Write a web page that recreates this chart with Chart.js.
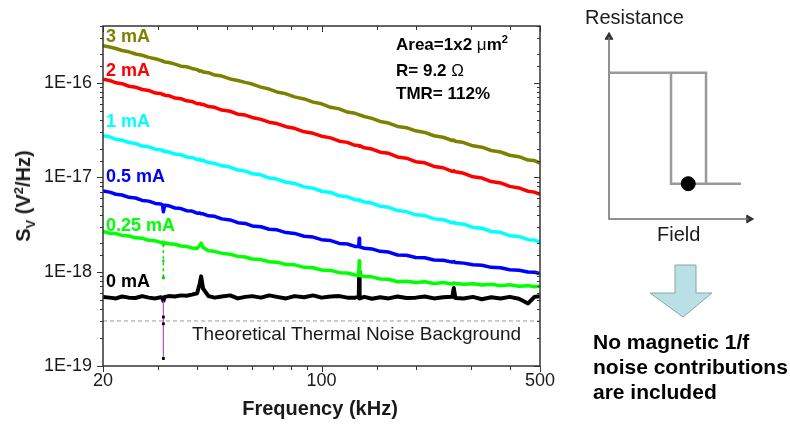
<!DOCTYPE html>
<html>
<head>
<meta charset="utf-8">
<script src="https://cdn.jsdelivr.net/npm/chart.js@4.4.1/dist/chart.umd.min.js"></script>
<style>
  html, body { margin: 0; padding: 0; background: #fff; }
  #page { position: relative; width: 790px; height: 426px; overflow: hidden;
          font-family: "Liberation Sans", Arial, sans-serif; color: #1a1a1a; }
  #page canvas { position: absolute; }
  .t { position: absolute; white-space: nowrap; line-height: 1; }
  .b { font-weight: bold; }
</style>
</head>
<body>
<div id="page">
  <canvas id="noiseChart" width="560" height="426" style="left:0;top:0"></canvas>
  <canvas id="loopChart" width="230" height="260" style="left:560px;top:0"></canvas>

  <div class="t b" style="left:23px;top:196px;font-size:20px;transform:translate(-50%,-50%) rotate(-90deg)">S<span style="font-size:13px;position:relative;top:5px">V</span> (V<span style="font-size:13px;position:relative;top:-7px">2</span>/Hz)</div>
  <div class="t b" style="left:320px;top:398px;font-size:20px;transform:translateX(-50%)">Frequency (kHz)</div>

  <div class="t b" style="left:106px;top:27px;font-size:18px;color:#808000">3 mA</div>
  <div class="t b" style="left:106px;top:61px;font-size:18px;color:#ff0000">2 mA</div>
  <div class="t b" style="left:106px;top:112px;font-size:18px;color:#00ffff">1 mA</div>
  <div class="t b" style="left:106px;top:167px;font-size:18px;color:#0000ff">0.5 mA</div>
  <div class="t b" style="left:106px;top:216px;font-size:18px;color:#00ff00">0.25 mA</div>
  <div class="t b" style="left:106px;top:272px;font-size:18px;color:#000">0 mA</div>

  <div class="t b" style="left:396px;top:36px;font-size:17px;color:#000">Area=1x2 <span style="font-weight:normal">μ</span>m<span style="font-size:11px;position:relative;top:-7px">2</span></div>
  <div class="t b" style="left:396px;top:62px;font-size:17px;color:#000">R= 9.2 <span style="font-weight:normal">Ω</span></div>
  <div class="t b" style="left:396px;top:85px;font-size:17px;color:#000">TMR= 112%</div>

  <div class="t" style="left:192px;top:324px;font-size:19px;color:#1a1a1a">Theoretical Thermal Noise Background</div>

  <div class="t" style="left:585px;top:7px;font-size:20px">Resistance</div>
  <div class="t" style="left:657px;top:224px;font-size:20px">Field</div>

  <svg width="790" height="426" style="position:absolute;left:0;top:0">
    <polygon points="675,265 696,265 696,293 712,293 683,317 650,293 675,293"
             fill="#b9e0e4" stroke="#8aa4a8" stroke-width="1"/>
  </svg>

  <div class="t b" style="left:593px;top:329px;font-size:21px;line-height:25px;color:#000">No magnetic 1/f<br>noise contributions<br>are included</div>
</div>

<script>
// frequency axis (kHz)
const freqKHz = [20, 21, 22, 23, 24.2, 25.4, 26.7, 28, 29.4, 30.6, 31.0, 31.2, 31.5, 32.5, 34, 35.5, 37, 38.5, 40, 40.8,
    41.2, 41.8, 43.5, 45.5, 48, 51, 54, 57, 60, 64, 68, 72, 77, 82, 88, 94, 100, 107, 114, 121,
    128, 131.6, 132, 132.4, 137, 145, 154, 164, 175, 187, 200, 214, 229, 245, 262, 265, 268, 285, 305, 326,
    349, 374, 400, 428, 458, 480, 500];

// noise spectra S_V (V^2/Hz), one per bias current
const sv3mA = [2.47e-16, 2.40e-16, 2.31e-16, 2.20e-16, 2.13e-16, 2.02e-16, 1.96e-16, 1.86e-16, 1.80e-16, 1.73e-16,
    1.69e-16, 1.70e-16, 1.66e-16, 1.64e-16, 1.58e-16, 1.50e-16, 1.48e-16, 1.42e-16, 1.38e-16, 1.33e-16,
    1.34e-16, 1.30e-16, 1.28e-16, 1.21e-16, 1.18e-16, 1.10e-16, 1.06e-16, 1.01e-16, 9.7e-17, 9.0e-17,
    8.6e-17, 8.0e-17, 7.65e-17, 7.1e-17, 6.75e-17, 6.25e-17, 6.0e-17, 5.5e-17, 5.3e-17, 4.9e-17,
    4.75e-17, 4.6e-17, 4.55e-17, 4.58e-17, 4.4e-17, 4.2e-17, 3.9e-17, 3.75e-17, 3.45e-17, 3.35e-17,
    3.1e-17, 2.98e-17, 2.75e-17, 2.65e-17, 2.45e-17, 2.48e-17, 2.4e-17, 2.33e-17, 2.15e-17, 2.08e-17,
    1.92e-17, 1.85e-17, 1.71e-17, 1.65e-17, 1.52e-17, 1.50e-17, 1.41e-17];
const sv2mA = [1.09e-16, 1.06e-16, 1.00e-16, 9.8e-17, 9.2e-17, 9.0e-17, 8.5e-17, 8.3e-17, 7.8e-17, 7.7e-17,
    7.5e-17, 7.55e-17, 7.4e-17, 7.3e-17, 6.9e-17, 6.8e-17, 6.45e-17, 6.35e-17, 6.0e-17, 6.05e-17,
    5.9e-17, 5.9e-17, 5.6e-17, 5.5e-17, 5.15e-17, 5.0e-17, 4.65e-17, 4.55e-17, 4.3e-17, 4.1e-17,
    3.83e-17, 3.7e-17, 3.43e-17, 3.3e-17, 3.03e-17, 2.92e-17, 2.72e-17, 2.61e-17, 2.41e-17, 2.34e-17,
    2.18e-17, 2.17e-17, 2.13e-17, 2.16e-17, 2.05e-17, 1.99e-17, 1.84e-17, 1.79e-17, 1.64e-17, 1.59e-17,
    1.46e-17, 1.42e-17, 1.30e-17, 1.26e-17, 1.15e-17, 1.17e-17, 1.14e-17, 1.10e-17, 1.01e-17, 9.8e-18,
    9.0e-18, 8.7e-18, 8.0e-18, 7.7e-18, 7.1e-18, 6.95e-18, 6.6e-18];
const sv1mA = [2.76e-17, 2.68e-17, 2.52e-17, 2.47e-17, 2.33e-17, 2.28e-17, 2.14e-17, 2.10e-17, 1.98e-17, 1.95e-17,
    1.90e-17, 1.92e-17, 1.88e-17, 1.85e-17, 1.76e-17, 1.73e-17, 1.64e-17, 1.62e-17, 1.54e-17, 1.55e-17,
    1.50e-17, 1.51e-17, 1.43e-17, 1.40e-17, 1.32e-17, 1.28e-17, 1.19e-17, 1.16e-17, 1.09e-17, 1.06e-17,
    9.8e-18, 9.55e-18, 8.85e-18, 8.6e-18, 7.9e-18, 7.65e-18, 7.1e-18, 6.9e-18, 6.35e-18, 6.2e-18,
    5.78e-18, 5.75e-18, 5.65e-18, 5.72e-18, 5.45e-18, 5.32e-18, 4.93e-18, 4.8e-18, 4.43e-18, 4.32e-18,
    4.0e-18, 3.92e-18, 3.62e-18, 3.55e-18, 3.28e-18, 3.34e-18, 3.25e-18, 3.18e-18, 2.94e-18, 2.88e-18,
    2.66e-18, 2.61e-18, 2.4e-18, 2.36e-18, 2.18e-18, 2.16e-18, 2.05e-18];
const sv05mA = [7.16e-18, 6.95e-18, 6.60e-18, 6.48e-18, 6.12e-18, 6.02e-18, 5.68e-18, 5.58e-18, 5.28e-18, 5.20e-18,
    5.10e-18, 4.3e-18, 5.05e-18, 4.98e-18, 4.72e-18, 4.66e-18, 4.42e-18, 4.38e-18, 4.16e-18, 4.18e-18,
    4.10e-18, 4.10e-18, 3.90e-18, 3.85e-18, 3.62e-18, 3.53e-18, 3.30e-18, 3.24e-18, 3.05e-18, 2.99e-18,
    2.81e-18, 2.77e-18, 2.59e-18, 2.54e-18, 2.37e-18, 2.32e-18, 2.18e-18, 2.13e-18, 1.99e-18, 1.96e-18,
    1.85e-18, 1.84e-18, 2.25e-18, 1.83e-18, 1.77e-18, 1.74e-18, 1.64e-18, 1.61e-18, 1.50e-18, 1.49e-18,
    1.41e-18, 1.40e-18, 1.33e-18, 1.32e-18, 1.26e-18, 1.28e-18, 1.25e-18, 1.23e-18, 1.18e-18, 1.17e-18,
    1.11e-18, 1.10e-18, 1.045e-18, 1.035e-18, 9.9e-19, 9.85e-19, 9.55e-19];
const sv025mA = [2.66e-18, 2.55e-18, 2.53e-18, 2.42e-18, 2.38e-18, 2.28e-18, 2.25e-18, 2.15e-18, 2.12e-18, 2.04e-18,
    2.05e-18, 1.95e-18, 2.02e-18, 1.97e-18, 1.95e-18, 1.87e-18, 1.85e-18, 1.78e-18, 1.76e-18, 1.90e-18,
    2.00e-18, 1.80e-18, 1.66e-18, 1.64e-18, 1.56e-18, 1.53e-18, 1.45e-18, 1.43e-18, 1.36e-18, 1.34e-18,
    1.27e-18, 1.26e-18, 1.19e-18, 1.18e-18, 1.11e-18, 1.10e-18, 1.04e-18, 1.03e-18, 9.75e-19, 9.65e-19,
    9.2e-19, 9.15e-19, 1.3e-18, 9.1e-19, 8.9e-19, 8.8e-19, 8.35e-19, 8.3e-19, 7.8e-19, 7.9e-19,
    7.65e-19, 7.8e-19, 7.5e-19, 7.65e-19, 7.4e-19, 7.6e-19, 7.5e-19, 7.35e-19, 7.45e-19, 7.2e-19,
    7.35e-19, 7.1e-19, 7.25e-19, 7.0e-19, 7.1e-19, 6.9e-19, 7.0e-19];
const sv0mA = [5.4e-19, 5.3e-19, 5.2e-19, 5.45e-19, 5.3e-19, 5.25e-19, 5.5e-19, 5.3e-19, 5.2e-19, 5.35e-19,
    5.3e-19, 4.9e-19, 5.4e-19, 5.5e-19, 5.45e-19, 5.6e-19, 5.55e-19, 5.7e-19, 5.9e-19, 7.5e-19,
    8.9e-19, 6.6e-19, 5.5e-19, 5.3e-19, 5.45e-19, 5.6e-19, 5.2e-19, 5.4e-19, 5.5e-19, 5.3e-19,
    5.6e-19, 5.4e-19, 5.2e-19, 5.5e-19, 5.35e-19, 5.6e-19, 5.3e-19, 5.45e-19, 5.5e-19, 5.3e-19,
    5.3e-19, 5.4e-19, 1.0e-18, 5.2e-19, 5.4e-19, 5.15e-19, 5.35e-19, 5.2e-19, 5.45e-19, 5.25e-19,
    5.3e-19, 5.45e-19, 5.2e-19, 5.35e-19, 5.4e-19, 6.7e-19, 5.25e-19, 5.2e-19, 5.4e-19, 5.1e-19,
    5.35e-19, 5.2e-19, 5.4e-19, 5.15e-19, 4.6e-19, 5.4e-19, 5.5e-19];

// glitch at ~31 kHz (drop-outs of the 0.25 mA and 0 mA traces)
const dropFreq = [31.2, 31.2, 31.2, 31.2];
const dropGreen = [1.95e-18, 1.3e-18, 8.6e-19];
const dropBlack = [4.9e-19, 3.3e-19, 2.8e-19, 1.2e-19];

// thermal noise floor
const thermalFreq = [20, 500];
const thermalSv = [3.0e-19, 3.0e-19];

const currents = ["3 mA", "2 mA", "1 mA", "0.5 mA", "0.25 mA", "0 mA"];
const seriesValues = [sv3mA, sv2mA, sv1mA, sv05mA, sv025mA, sv0mA];
const seriesColors = ["#808000", "#ff0000", "#00ffff", "#0000ff", "#00ff00", "#000000"];

const xLabelled = [20, 100, 500];

// right panel: R(H) hysteresis sketch, arbitrary units
const loopField = [0, 69.3, 69.3, 94.3, null, 44.3, 44.3, 69.3];
const loopResistance = [80.4, 80.4, 19.4, 19.4, null, 80.4, 19.4, 19.4];
const axisField = [0, 0, 100];
const axisResistance = [100, 0, 0];
const stateField = [56.6];
const stateResistance = [19.4];

const FONT = "'Liberation Sans', Arial, sans-serif";
const pts = (xs, ys) => xs.map((x, i) => ({ x: x, y: ys[i] }));

const isDecade = v => {
    const e = Math.log10(v);
    return Math.abs(e - Math.round(e)) < 1e-6;
};

// frame + tick marks (outside on bottom/left, inside on top/right)
const frameTicks = {
    id: "frameTicks",
    afterDraw(chart) {
        const { ctx, chartArea: a, scales: { x, y } } = chart;
        ctx.save();
        ctx.strokeStyle = "#333";
        ctx.lineWidth = 1;
        const seg = (x1, y1, x2, y2) => {
            ctx.beginPath(); ctx.moveTo(x1, y1); ctx.lineTo(x2, y2); ctx.stroke();
        };
        x.ticks.forEach(t => {
            const px = Math.round(x.getPixelForValue(t.value)) + 0.5;
            const len = xLabelled.includes(Math.round(t.value)) ? 6 : 4;
            seg(px, a.bottom, px, a.bottom + len);
            seg(px, a.top, px, a.top + len);
        });
        y.ticks.forEach(t => {
            const py = Math.round(y.getPixelForValue(t.value)) + 0.5;
            const len = isDecade(t.value) ? 6 : 3;
            seg(a.left - len, py, a.left, py);
            seg(a.right - len, py, a.right, py);
        });
        ctx.lineWidth = 1.5;
        ctx.strokeRect(a.left, a.top, a.right - a.left, a.bottom - a.top);
        ctx.restore();
    }
};

const datasets = [
    {
        label: "0 mA glitch",
        data: pts(dropFreq, dropBlack),
        borderColor: "#c050c0",
        borderWidth: 1.2,
        pointRadius: [0, 2, 2, 2],
        pointStyle: "rect",
        pointBackgroundColor: "#000",
        pointBorderWidth: 0
    },
    {
        label: "0.25 mA glitch",
        data: pts(dropFreq.slice(0, 3), dropGreen),
        borderColor: "#00dd00",
        borderWidth: 1.5,
        borderDash: [3, 3],
        pointRadius: [0, 1.5, 2],
        pointStyle: "rect",
        pointBackgroundColor: "#00cc00",
        pointBorderWidth: 0
    }
];
currents.forEach((name, i) => {
    datasets.push({
        label: name,
        data: pts(freqKHz, seriesValues[i]),
        borderColor: seriesColors[i],
        borderWidth: name === "0 mA" ? 4 : 3.5,
        pointRadius: 0,
        borderJoinStyle: "round"
    });
});
datasets.push({
    label: "Theoretical Thermal Noise Background",
    data: pts(thermalFreq, thermalSv),
    borderColor: "#9a9a9a",
    borderWidth: 1,
    borderDash: [4, 3],
    pointRadius: 0
});

new Chart(document.getElementById("noiseChart").getContext("2d"), {
    type: "line",
    data: { datasets: datasets },
    options: {
        responsive: false,
        animation: false,
        layout: { padding: { top: 26, right: 20, left: 0, bottom: 0 } },
        plugins: { legend: { display: false }, tooltip: { enabled: false } },
        elements: { line: { tension: 0 } },
        scales: {
            x: {
                type: "logarithmic",
                min: 20,
                max: 500,
                grid: { display: false, drawTicks: false },
                border: { display: false },
                afterFit: s => { s.height = 60; },
                ticks: {
                    autoSkip: false,
                    maxRotation: 0,
                    padding: 4,
                    color: "#1a1a1a",
                    font: { family: FONT, size: 18 },
                    callback: v => {
                        const r = Math.round(v);
                        return xLabelled.includes(r) && Math.abs(v - r) < 1e-6 ? String(r) : "";
                    }
                }
            },
            y: {
                type: "logarithmic",
                min: 1e-19,
                max: 4e-16,
                grid: { display: false, drawTicks: false },
                border: { display: false },
                afterFit: s => { s.width = 103; },
                ticks: {
                    autoSkip: false,
                    padding: 11,
                    color: "#1a1a1a",
                    font: { family: FONT, size: 18 },
                    callback: v => isDecade(v) ? "1E" + Math.round(Math.log10(v)) : ""
                }
            }
        }
    },
    plugins: [frameTicks]
});

// hysteresis sketch
new Chart(document.getElementById("loopChart").getContext("2d"), {
    type: "line",
    data: {
        datasets: [
            {
                label: "state",
                data: pts(stateField, stateResistance),
                showLine: false,
                pointRadius: 7,
                pointBackgroundColor: "#000",
                pointBorderColor: "#000",
                clip: false
            },
            {
                label: "loop",
                data: pts(loopField, loopResistance),
                borderColor: "#9a9a9a",
                borderWidth: 2.5,
                pointRadius: 0,
                spanGaps: false,
                clip: false
            },
            {
                label: "axes",
                data: pts(axisField, axisResistance),
                borderColor: "#6e6e6e",
                borderWidth: 1.5,
                pointRadius: 0,
                clip: false
            },
            {
                label: "arrows",
                data: pts([0, 100], [100, 0]),
                showLine: false,
                pointStyle: "triangle",
                pointRotation: [0, 90],
                pointRadius: 4.5,
                pointBackgroundColor: "#333",
                pointBorderColor: "#333",
                clip: false
            }
        ]
    },
    options: {
        responsive: false,
        animation: false,
        layout: { padding: { left: 49, right: 41, top: 37, bottom: 41 } },
        plugins: { legend: { display: false }, tooltip: { enabled: false } },
        scales: {
            x: { type: "linear", min: 0, max: 100, display: false },
            y: { type: "linear", min: 0, max: 100, display: false }
        }
    }
});
</script>
</body>
</html>
